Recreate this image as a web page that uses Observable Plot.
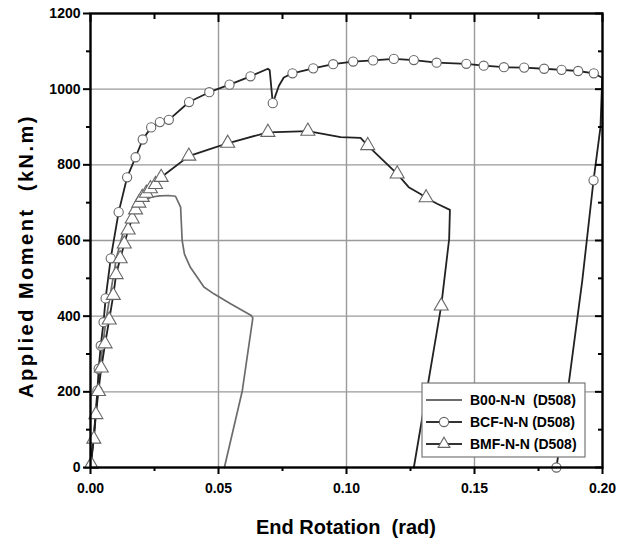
<!DOCTYPE html>
<html><head><meta charset="utf-8">
<script src="https://cdn.jsdelivr.net/npm/d3@7"></script>
<script src="https://cdn.jsdelivr.net/npm/@observablehq/plot@0.6"></script>
<style>
html,body{margin:0;padding:0;background:#fff;}
#chart{width:629px;height:542px;position:relative;}
</style></head><body><div id="chart"></div>
<script>
// ---- data (End Rotation rad, Applied Moment kN.m) ----
const seriesNames = ["B00-N-N  (D508)", "BCF-N-N (D508)", "BMF-N-N (D508)"];

const b00X = [0, 0.0015, 0.003, 0.0047, 0.0063, 0.0078, 0.0102, 0.0125, 0.015, 0.018, 0.021, 0.024, 0.027, 0.0305, 0.0332, 0.0352, 0.0358, 0.0367, 0.039, 0.0417, 0.0443, 0.0482, 0.0547, 0.0628, 0.0634, 0.0593, 0.0523];
const b00Y = [0, 100, 210, 320, 400, 460, 556, 615, 655, 690, 706, 715, 718, 719, 717, 688, 600, 564, 529, 503, 477, 459, 433, 402, 395, 203, 0];

const bcfX = [0, 0.0015, 0.0027, 0.0032, 0.004, 0.0051, 0.0059, 0.0079, 0.011, 0.0143, 0.0176, 0.0204, 0.0237, 0.0271, 0.0306, 0.0385, 0.0464, 0.0543, 0.0625, 0.0693, 0.0700, 0.0712, 0.0736, 0.0755, 0.0789, 0.087, 0.0948, 0.1026, 0.1104, 0.1185, 0.1263, 0.1352, 0.1468, 0.1536, 0.1615, 0.1694, 0.1772, 0.184, 0.1905, 0.1966, 0.1999, 0.1992, 0.1965, 0.1921, 0.1868, 0.182];
const bcfY = [0, 100, 204, 261, 322, 384, 447, 553, 675, 767, 820, 867, 899, 913, 919, 966, 992, 1012, 1034, 1054, 1050, 963, 1009, 1031, 1042, 1055, 1066, 1073, 1076, 1080, 1077, 1070, 1067, 1062, 1058, 1057, 1054, 1051, 1048, 1042, 1030, 899, 759, 494, 221, 0];
const bcfMarkX = [0.0027, 0.0032, 0.004, 0.0051, 0.0059, 0.0079, 0.011, 0.0143, 0.0176, 0.0204, 0.0237, 0.0271, 0.0306, 0.0385, 0.0464, 0.0543, 0.0625, 0.0712, 0.0789, 0.087, 0.0948, 0.1026, 0.1104, 0.1185, 0.1263, 0.1352, 0.1468, 0.1536, 0.1615, 0.1694, 0.1772, 0.184, 0.1905, 0.1966, 0.1965, 0.182];
const bcfMarkY = [204, 261, 322, 384, 447, 553, 675, 767, 820, 867, 899, 913, 919, 966, 992, 1012, 1034, 963, 1042, 1055, 1066, 1073, 1076, 1080, 1077, 1070, 1067, 1062, 1058, 1057, 1054, 1051, 1048, 1042, 759, 0];

const bmfX = [0, 0.0013, 0.0021, 0.0031, 0.0042, 0.0057, 0.0073, 0.0089, 0.01, 0.0116, 0.0132, 0.0147, 0.0163, 0.0176, 0.0189, 0.0202, 0.0218, 0.0234, 0.0254, 0.0276, 0.0384, 0.0469, 0.0536, 0.0693, 0.0849, 0.0977, 0.1055, 0.1083, 0.1198, 0.1243, 0.1289, 0.1311, 0.1354, 0.1404, 0.1401, 0.137, 0.1263];
const bmfY = [0, 75, 140, 201, 263, 327, 390, 455, 510, 552, 591, 628, 657, 681, 699, 714, 725, 737, 748, 767, 823, 842, 857, 886, 889, 873, 871, 851, 776, 741, 723, 713, 697, 681, 604, 427, 0];
const bmfMarkX = [0.0003, 0.0013, 0.0021, 0.0031, 0.0042, 0.0057, 0.0073, 0.0089, 0.01, 0.0116, 0.0132, 0.0147, 0.0163, 0.0176, 0.0189, 0.0202, 0.0218, 0.0234, 0.0254, 0.0276, 0.0384, 0.0536, 0.0693, 0.0849, 0.1083, 0.1198, 0.1311, 0.137];
const bmfMarkY = [8, 75, 140, 201, 263, 327, 390, 455, 510, 552, 591, 628, 657, 681, 699, 714, 725, 737, 748, 767, 823, 857, 886, 889, 851, 776, 713, 427];

const xMajor = [0, 0.05, 0.10, 0.15, 0.20];
const xMinor = [0.025, 0.075, 0.125, 0.175];
const yMajor = [0, 200, 400, 600, 800, 1000, 1200];
const yMinor = [100, 300, 500, 700, 900, 1100];
const xGrid = [0.05, 0.10, 0.15];
const yGrid = [200, 400, 600, 800, 1000];

const xTitle = "End Rotation  (rad)";
const yTitle = "Applied Moment  (kN.m)";

// ---- build ----
const zip = (xs, ys) => xs.map((x, i) => ({x, y: ys[i]}));
const b00 = zip(b00X, b00Y);
const bcf = zip(bcfX, bcfY);
const bmf = zip(bmfX, bmfY);
const bcfM = zip(bcfMarkX, bcfMarkY);
const bmfM = zip(bmfMarkX, bmfMarkY);

const FONT = "'Liberation Sans', Arial, sans-serif";
const noText = () => "";

const plot = Plot.plot({
  width: 629, height: 542,
  marginLeft: 90, marginRight: 27, marginTop: 13, marginBottom: 75,
  style: {fontFamily: FONT, fontSize: "14px", color: "#000", background: "#fff"},
  x: {domain: [0, 0.2]},
  y: {domain: [0, 1200]},
  marks: [
    Plot.gridX(xGrid, {stroke: "#9a9a9a", strokeOpacity: 1, strokeWidth: 1.4}),
    Plot.gridY(yGrid, {stroke: "#9a9a9a", strokeOpacity: 1, strokeWidth: 1.4}),
    Plot.line(b00, {x: "x", y: "y", stroke: "#6c6c6c", strokeWidth: 1.7}),
    Plot.line(bmf, {x: "x", y: "y", stroke: "#222", strokeWidth: 1.8}),
    Plot.line(bcf, {x: "x", y: "y", stroke: "#222", strokeWidth: 1.8}),
    Plot.dot(bcfM, {x: "x", y: "y", r: 4.6, fill: "#fff", stroke: "#666", strokeWidth: 1.1}),
    Plot.dot(bmfM, {x: "x", y: "y", symbol: "triangle", r: 5.2, fill: "#fff", stroke: "#666", strokeWidth: 1.1}),
    Plot.frame({stroke: "#000", strokeWidth: 2.4}),
    Plot.axisX({anchor: "bottom", ticks: xMajor, tickSize: 7, tickPadding: 9, tickFormat: d3.format(".2f"), fontWeight: "bold", fontSize: 14, label: null, strokeWidth: 2}),
    Plot.axisX({anchor: "bottom", ticks: xMinor, tickSize: 4, tickFormat: noText, label: null, strokeWidth: 2}),
    Plot.axisX({anchor: "top", ticks: xMajor, tickSize: -8, tickFormat: noText, label: null, strokeWidth: 2}),
    Plot.axisX({anchor: "top", ticks: xMinor, tickSize: -5, tickFormat: noText, label: null, strokeWidth: 2}),
    Plot.axisY({anchor: "left", ticks: yMajor, tickSize: 7, tickPadding: 3, tickFormat: d3.format("d"), fontWeight: "bold", fontSize: 14, label: null, strokeWidth: 2}),
    Plot.axisY({anchor: "left", ticks: yMinor, tickSize: 4, tickFormat: noText, label: null, strokeWidth: 2}),
    Plot.axisY({anchor: "right", ticks: yMajor, tickSize: -8, tickFormat: noText, label: null, strokeWidth: 2}),
    Plot.axisY({anchor: "right", ticks: yMinor, tickSize: -5, tickFormat: noText, label: null, strokeWidth: 2})
  ]
});
document.getElementById("chart").appendChild(plot);

// ---- titles & legend ----
const svg = d3.select(plot);
svg.append("text").attr("x", 346).attr("y", 534).attr("text-anchor", "middle")
  .attr("font-family", FONT).attr("font-weight", "bold").attr("font-size", 20).attr("fill", "#000")
  .text(xTitle);
svg.append("text").attr("transform", "translate(33,256) rotate(-90)").attr("text-anchor", "middle")
  .attr("font-family", FONT).attr("font-weight", "bold").attr("font-size", 20).attr("letter-spacing", "2.5px").attr("fill", "#000")
  .text(yTitle);

const lg = svg.append("g").attr("text-anchor", "start");
lg.append("rect").attr("x", 422).attr("y", 383).attr("width", 163).attr("height", 74)
  .attr("fill", "#fff").attr("stroke", "#777").attr("stroke-width", 1.2);
const rows = [
  {name: seriesNames[0], color: "#6c6c6c", sym: null},
  {name: seriesNames[1], color: "#333", sym: "circle"},
  {name: seriesNames[2], color: "#333", sym: "triangle"}
];
rows.forEach((r, i) => {
  const cy = 400 + i * 22;
  lg.append("line").attr("x1", 426).attr("x2", 462).attr("y1", cy).attr("y2", cy)
    .attr("stroke", r.color).attr("stroke-width", 1.8);
  if (r.sym) {
    const sym = r.sym === "circle" ? d3.symbolCircle : d3.symbolTriangle;
    const size = r.sym === "circle" ? Math.PI * 4.6 * 4.6 : 60;
    lg.append("path").attr("d", d3.symbol(sym, size)()).attr("transform", `translate(444,${cy})`)
      .attr("fill", "#fff").attr("stroke", "#666").attr("stroke-width", 1.1);
  }
  lg.append("text").attr("x", 470).attr("y", cy).attr("dy", "0.36em").attr("text-anchor", "start")
    .attr("font-family", FONT).attr("font-weight", "bold").attr("font-size", 14).attr("fill", "#000")
    .text(r.name);
});
</script>
</body></html>
